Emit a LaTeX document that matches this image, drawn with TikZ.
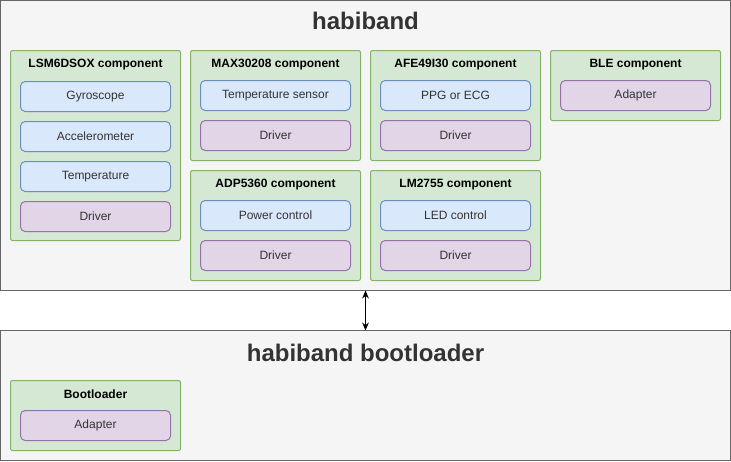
\documentclass[tikz,border=0pt]{standalone}
\usepackage{fontspec}
\setmainfont{Liberation Sans}
\usetikzlibrary{positioning,arrows.meta}

\definecolor{boxfill}{HTML}{F5F5F5}
\definecolor{boxline}{HTML}{666666}
\definecolor{compfill}{HTML}{D5E8D4}
\definecolor{compline}{HTML}{82B366}
\definecolor{hwfill}{HTML}{DAE8FC}
\definecolor{hwline}{HTML}{6C8EBF}
\definecolor{drvfill}{HTML}{E1D5E7}
\definecolor{drvline}{HTML}{9673A6}
\definecolor{txt}{HTML}{333333}

\tikzset{
  system/.style={draw=boxline,fill=boxfill,line width=0.75pt,minimum width=547.5pt,
    anchor=north west,inner sep=0pt,outer sep=0pt},
  systitle/.style={text=txt,font=\bfseries\fontsize{18}{21}\selectfont},
  comp/.style={draw=compline,fill=compfill,line width=0.75pt,rounded corners=1.5pt,
    minimum width=127.5pt,anchor=north west,inner sep=0pt,outer sep=0pt},
  comptitle/.style={font=\bfseries\fontsize{9}{11}\selectfont},
  part/.style={line width=0.75pt,rounded corners=3.5pt,minimum width=112.5pt,
    minimum height=22.5pt,inner sep=0pt,outer sep=0pt,text=txt,font=\fontsize{9}{11}\selectfont},
  hw/.style={part,draw=hwline,fill=hwfill},
  drv/.style={part,draw=drvline,fill=drvfill},
  link/.style={line width=0.75pt,{Stealth[length=6pt,width=5pt]}-{Stealth[length=6pt,width=5pt]}}
}

\begin{document}
\begin{tikzpicture}[x=0.75pt,y=-0.75pt]
  \useasboundingbox (-0.5,-0.5) rectangle (730.5,460.5);

  % application
  \node[system,minimum height=217.5pt] (app) at (0,0) {};
  \node[systitle] (apptitle) at (365,20) {habiband};

  \node[comp,minimum height=142.5pt] (lsm) at (10,50) {};
  \node[comptitle] (lsmtitle) at (95,64) {LSM6DSOX component};
  \node[hw] (gyro) at (95,96) {Gyroscope};
  \node[hw,below=7.5pt of gyro] (accel) {Accelerometer};
  \node[hw,below=7.5pt of accel] (temp) {Temperature};
  \node[drv,below=7.5pt of temp] (lsmdrv) {Driver};

  \node[comp,minimum height=82.5pt] (max) at (190,50) {};
  \node[comptitle] (maxtitle) at (275,64) {MAX30208 component};
  \node[hw] (tsens) at (275,95) {Temperature sensor};
  \node[drv,below=7.5pt of tsens] (maxdrv) {Driver};

  \node[comp,minimum height=82.5pt] (adp) at (190,170) {};
  \node[comptitle] (adptitle) at (275,184) {ADP5360 component};
  \node[hw] (power) at (275,215) {Power control};
  \node[drv,below=7.5pt of power] (adpdrv) {Driver};

  \node[comp,minimum height=82.5pt] (afe) at (370,50) {};
  \node[comptitle] (afetitle) at (455,64) {AFE49I30 component};
  \node[hw] (ppg) at (455,95) {PPG or ECG};
  \node[drv,below=7.5pt of ppg] (afedrv) {Driver};

  \node[comp,minimum height=82.5pt] (lm) at (370,170) {};
  \node[comptitle] (lmtitle) at (455,184) {LM2755 component};
  \node[hw] (led) at (455,215) {LED control};
  \node[drv,below=7.5pt of led] (lmdrv) {Driver};

  \node[comp,minimum height=52.5pt] (ble) at (550,50) {};
  \node[comptitle] (bletitle) at (635,64) {BLE component};
  \node[drv] (bleadp) at (635,95) {Adapter};

  % bootloader
  \node[system,minimum height=97.5pt] (boot) at (0,330) {};
  \node[systitle] (boottitle) at (365,352) {habiband bootloader};

  \node[comp,minimum height=52.5pt] (bl) at (10,380) {};
  \node[comptitle] (bltitle) at (95,394) {Bootloader};
  \node[drv] (bladp) at (95,425) {Adapter};

  \draw[link] (app.south) -- (boot.north);
\end{tikzpicture}
\end{document}
